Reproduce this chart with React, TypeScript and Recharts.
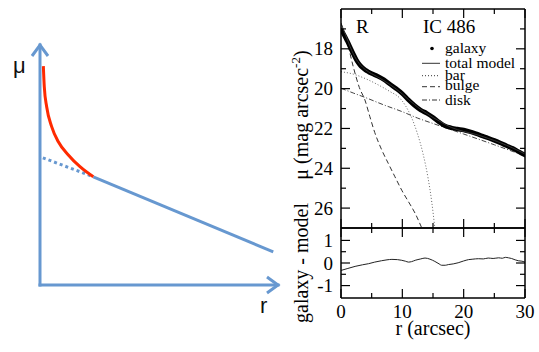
import React from 'react';
import { LineChart, Line, XAxis, YAxis, Legend } from 'recharts';

// left: schematic profile (arbitrary units, 0..10 on both axes)
const sketchBulge = [
  [0.14, 9.12], [0.18, 8.26], [0.28, 7.43], [0.49, 6.6],
  [0.77, 5.97], [1.19, 5.42], [1.68, 4.93], [2.24, 4.51],
];
const sketchDiskInner = [[0.12, 5.3], [2.24, 4.51]];
const sketchDiskOuter = [[2.24, 4.51], [9.8, 1.38]];

// right: IC 486 R-band profile, r in arcsec, mu in mag/arcsec^2
const galaxy = [
  [0, 17.05], [0.5, 17.3], [1, 17.6], [1.5, 17.92], [2, 18.25], [2.5, 18.55],
  [3, 18.78], [3.5, 18.95], [4, 19.07], [4.5, 19.16], [5, 19.24], [6, 19.38],
  [7, 19.55], [8, 19.78], [9, 20.0], [10, 20.25], [11, 20.57], [12, 20.85],
  [13, 21.08], [14, 21.24], [15, 21.44], [16, 21.68], [17, 21.88], [18, 21.97],
  [19, 22.03], [20, 22.08], [21, 22.16], [22, 22.26], [23, 22.37], [24, 22.48],
  [25, 22.6], [26, 22.73], [27, 22.87], [28, 23.0], [29, 23.17], [30, 23.34],
];
const totalModel = [
  [0, 16.75], [0.5, 17.1], [1, 17.5], [1.5, 17.9], [2, 18.25], [3, 18.75],
  [4, 19.05], [5, 19.25], [6, 19.42], [7, 19.6], [8, 19.8], [9, 20.02],
  [10, 20.27], [11, 20.55], [12, 20.8], [13, 21.05], [14, 21.25], [15, 21.45],
  [16, 21.62], [17, 21.8], [18, 21.95], [20, 22.15], [22, 22.3], [24, 22.5],
  [26, 22.72], [28, 22.98], [30, 23.28],
];
const bar = [
  [0, 19.15], [2, 19.27], [4, 19.5], [6, 19.8], [8, 20.15], [9.5, 20.45],
  [10.5, 20.85], [11.5, 21.45], [12.4, 22.2], [13.4, 23.3], [14.2, 24.5],
  [14.8, 25.7], [15.3, 27.0],
];
const bulge = [
  [0, 16.7], [1, 17.65], [2, 18.9], [3, 19.95], [3.9, 20.57], [4.7, 21.4],
  [5.5, 22.2], [6.6, 23.05], [7.7, 23.75], [8.8, 24.43], [9.9, 25.1],
  [11, 25.68], [12.1, 26.27], [13.1, 26.95],
];
const disk = [
  [0, 19.98], [2, 20.22], [4, 20.45], [7, 20.82], [10, 21.16], [12.5, 21.48],
  [15, 21.75], [20, 22.28], [25, 22.82], [30, 23.38],
];
const residual = [
  [0, -0.33], [1, -0.25], [2.3, -0.15], [3.5, -0.08], [4.5, -0.03], [5.5, 0.04],
  [6.6, 0.1], [7.5, 0.14], [8.3, 0.16], [9.2, 0.15], [9.9, 0.12], [10.5, 0.08],
  [11, 0.04], [11.5, 0.06], [12.1, 0.12], [13, 0.18], [13.7, 0.22], [14.5, 0.17],
  [15.3, 0.07], [16, -0.04], [16.4, -0.1], [17, -0.1], [17.5, -0.07], [18.3, -0.04],
  [19.1, 0.01], [20, 0.09], [20.8, 0.15], [21.5, 0.17], [22.4, 0.19], [23.2, 0.18],
  [24, 0.22], [24.8, 0.2], [25.7, 0.23], [26.3, 0.21], [26.8, 0.25], [27.3, 0.23],
  [27.8, 0.2], [28.4, 0.14], [28.9, 0.1], [29.5, 0.08], [30, 0.04],
];

const rTicks = [0, 5, 10, 15, 20, 25, 30];
const muTicks = [17, 18, 19, 20, 21, 22, 23, 24, 25, 26];
const residTicks = [-1, -0.5, 0, 0.5, 1];

const legendItems = [
  { name: 'galaxy', kind: 'dot' },
  { name: 'total model', dash: undefined as string | undefined },
  { name: 'bar', dash: '1 2' },
  { name: 'bulge', dash: '5 3' },
  { name: 'disk', dash: '5 2 1 2' },
];

const SERIF = '"Liberation Serif", "Times New Roman", serif';
const SANS = '"Liberation Sans", Arial, sans-serif';
const BLUE = '#6798d0';
const RED = '#ff2a00';

const pts = (rows: number[][]) => rows.map(([x, y]) => ({ x, y }));

type Side = 'bottom' | 'top' | 'left' | 'right';

// ticks drawn inward from the frame, longer on major values
const frameTick = (side: Side, isMajor: (v: number) => boolean, labels = false) =>
  (props: any) => {
    const { x, y, payload } = props;
    const v = payload.value;
    const len = isMajor(v) ? 9 : 5;
    const dx = side === 'left' ? len : side === 'right' ? -len : 0;
    const dy = side === 'bottom' ? -len : side === 'top' ? len : 0;
    const show = labels && isMajor(v);
    return (
      <g>
        <line x1={x} y1={y} x2={x + dx} y2={y + dy} stroke="#000" strokeWidth={1.2} />
        {show && side === 'bottom' && (
          <text x={x} y={y + 20} textAnchor="middle" fontFamily={SERIF} fontSize={19} fill="#000">{v}</text>
        )}
        {show && side === 'left' && (
          <text x={x - 8} y={y + 6.5} textAnchor="end" fontFamily={SERIF} fontSize={19} fill="#000">{v}</text>
        )}
      </g>
    );
  };

const frame = {
  type: 'number' as const,
  tickLine: false,
  tickSize: 0,
  tickMargin: 0,
  interval: 0 as const,
  allowDataOverflow: true,
  axisLine: { stroke: '#000', strokeWidth: 1.5 },
};

const even = (v: number) => v % 2 === 0;
const tens = (v: number) => v % 10 === 0;
const whole = (v: number) => Number.isInteger(v);

function Sketch() {
  const axisStyle = { stroke: BLUE, strokeWidth: 3, strokeLinecap: 'square' as const };
  return (
    <LineChart width={300} height={352} margin={{ top: 45, right: 22, bottom: 66, left: 39 }}>
      <defs>
        <marker id="sketchArrow" viewBox="0 0 20 20" refX={17} refY={10} markerWidth={20} markerHeight={20}
          markerUnits="userSpaceOnUse" orient="auto-start-reverse">
          <path d="M6,2 L17,10 L6,18" fill="none" stroke={BLUE} strokeWidth={3} />
        </marker>
      </defs>
      <XAxis type="number" dataKey="x" domain={[0, 10]} height={1} tick={false} tickLine={false}
        axisLine={{ ...axisStyle, markerEnd: 'url(#sketchArrow)' }} />
      <YAxis type="number" domain={[0, 10]} width={1} tick={false} tickLine={false}
        axisLine={{ ...axisStyle, markerStart: 'url(#sketchArrow)' }} />
      <text x={260} y={313} fontFamily={SANS} fontSize={22} fill="#111">r</text>
      <text x={13} y={73} fontFamily={SANS} fontSize={22} fill="#111">μ</text>
      <Line data={pts(sketchDiskInner)} dataKey="y" stroke={BLUE} strokeWidth={3} strokeDasharray="3 3"
        dot={false} isAnimationActive={false} />
      <Line data={pts(sketchDiskOuter)} dataKey="y" stroke={BLUE} strokeWidth={3}
        dot={false} isAnimationActive={false} />
      <Line data={pts(sketchBulge)} dataKey="y" type="monotone" stroke={RED} strokeWidth={3}
        dot={false} isAnimationActive={false} />
    </LineChart>
  );
}

function ProfileLegend() {
  return (
    <svg width={259} height={240} style={{ position: 'absolute', left: 0, top: 0 }}>
      <text x={76} y={33} fontFamily={SERIF} fontSize={19}>R</text>
      <text x={143} y={33} fontFamily={SERIF} fontSize={19}>IC 486</text>
      {legendItems.map((it, i) => {
        const base = [53, 68, 80, 90, 105][i];
        const sy = [48.5, 63.3, 75.7, 86.7, 100][i];
        return (
          <g key={it.name}>
            {it.kind === 'dot'
              ? <circle cx={152} cy={sy} r={1.8} fill="#000" />
              : <line x1={142} x2={160} y1={sy} y2={sy} stroke="#333" strokeWidth={1} strokeDasharray={it.dash} />}
            <text x={165} y={base} fontFamily={SERIF} fontSize={15.5}>{it.name}</text>
          </g>
        );
      })}
    </svg>
  );
}

function Profile() {
  return (
    <LineChart width={259} height={240} margin={{ top: 8, right: 13, bottom: 11, left: 60 }}>
      <XAxis {...frame} xAxisId="b" dataKey="x" domain={[0, 30]} ticks={rTicks} height={1}
        orientation="bottom" tick={frameTick('bottom', tens)} />
      <XAxis {...frame} xAxisId="t" dataKey="x" domain={[0, 30]} ticks={rTicks} height={1}
        orientation="top" tick={frameTick('top', tens)} />
      <YAxis {...frame} yAxisId="l" domain={[16, 27]} reversed ticks={muTicks} width={1}
        orientation="left" tick={frameTick('left', even, true)} />
      <YAxis {...frame} yAxisId="r" domain={[16, 27]} reversed ticks={muTicks} width={1}
        orientation="right" tick={frameTick('right', even)} />
      <text x={28} y={115} transform="rotate(-90 28 115)" textAnchor="middle" fontFamily={SERIF} fontSize={20}>
        μ (mag arcsec<tspan dy={-8} fontSize={13}>-2</tspan><tspan dy={8}>)</tspan>
      </text>
      <Legend layout="vertical" align="center" verticalAlign="middle" width={259} height={240}
        wrapperStyle={{ position: 'absolute', left: 0, top: 0, pointerEvents: 'none' }}
        content={() => <ProfileLegend />} />
      <Line xAxisId="b" yAxisId="l" data={pts(disk)} dataKey="y" type="monotone" stroke="#444"
        strokeWidth={1} strokeDasharray="5 2 1 2" dot={false} isAnimationActive={false} />
      <Line xAxisId="b" yAxisId="l" data={pts(bar)} dataKey="y" type="monotone" stroke="#666"
        strokeWidth={1} strokeDasharray="1 2" dot={false} isAnimationActive={false} />
      <Line xAxisId="b" yAxisId="l" data={pts(bulge)} dataKey="y" type="monotone" stroke="#333"
        strokeWidth={1} strokeDasharray="5 3" dot={false} isAnimationActive={false} />
      <Line xAxisId="b" yAxisId="l" data={pts(galaxy)} dataKey="y" type="monotone" stroke="#000"
        strokeWidth={4.5} strokeLinecap="round" dot={false} isAnimationActive={false} />
      <Line xAxisId="b" yAxisId="l" data={pts(totalModel)} dataKey="y" type="monotone" stroke="#333"
        strokeWidth={1} dot={false} isAnimationActive={false} />
    </LineChart>
  );
}

// chart box starts at page y=195 so the rotated title has room above the panel
function Residuals() {
  return (
    <LineChart width={259} height={157} margin={{ top: 32, right: 13, bottom: 53, left: 60 }}>
      <XAxis {...frame} xAxisId="b" dataKey="x" domain={[0, 30]} ticks={rTicks} height={1}
        orientation="bottom" tick={frameTick('bottom', tens, true)} />
      <XAxis {...frame} xAxisId="t" dataKey="x" domain={[0, 30]} ticks={rTicks} height={1}
        orientation="top" tick={frameTick('top', tens)} />
      <YAxis {...frame} yAxisId="l" domain={[-1.55, 1.55]} ticks={residTicks} width={1}
        orientation="left" tick={frameTick('left', whole, true)} />
      <YAxis {...frame} yAxisId="r" domain={[-1.55, 1.55]} ticks={residTicks} width={1}
        orientation="right" tick={frameTick('right', whole)} />
      <text x={153} y={140} textAnchor="middle" fontFamily={SERIF} fontSize={20}>r (arcsec)</text>
      <text x={28} y={68} transform="rotate(-90 28 68)" textAnchor="middle" fontFamily={SERIF} fontSize={20}>
        galaxy - model
      </text>
      <Line xAxisId="b" yAxisId="l" data={pts(residual)} dataKey="y" type="monotone" stroke="#222"
        strokeWidth={1} dot={false} isAnimationActive={false} />
    </LineChart>
  );
}

export default function App() {
  return (
    <div style={{ position: 'absolute', left: 0, top: 0, width: 539, height: 352, background: '#fff', overflow: 'hidden' }}>
      <div style={{ position: 'absolute', left: 0, top: 0 }}><Sketch /></div>
      <div style={{ position: 'absolute', left: 280, top: 0 }}><Profile /></div>
      <div style={{ position: 'absolute', left: 280, top: 195 }}><Residuals /></div>
    </div>
  );
}
